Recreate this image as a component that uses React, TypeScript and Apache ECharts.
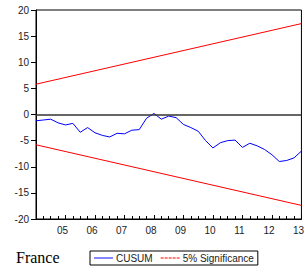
import React, { useEffect, useRef } from "react";
import * as echarts from "echarts";

// Quarterly observations, 2004Q1 .. 2013Q1
const startYear = 2004;
const periodsPerYear = 4;
const cusum = [
  -1.2, -1.05, -0.9, -1.6, -2.0, -1.7, -3.4, -2.5, -3.5, -4.0,
  -4.3, -3.6, -3.7, -3.0, -2.9, -0.7, 0.2, -0.9, -0.3, -0.6,
  -1.9, -2.5, -3.2, -5.0, -6.4, -5.4, -5.0, -4.9, -6.3, -5.5,
  -6.0, -6.7, -7.7, -9.0, -8.8, -8.3, -7.0,
];
// 5% significance bounds at first and last observation
const upperBound = [5.8, 17.4];
const lowerBound = [-5.8, -17.4];
const yTicks = [-20, -15, -10, -5, 0, 5, 10, 15, 20];
const xLabelYears = [2005, 2006, 2007, 2008, 2009, 2010, 2011, 2012, 2013];
const seriesNames = ["CUSUM", "5% Significance"];
const countryLabel = "France";

export default function App() {
  const ref = useRef<HTMLDivElement>(null);
  useEffect(() => {
    if (!ref.current) return;
    const chart = echarts.init(ref.current, undefined, { renderer: "svg" });
    const t = (i: number) => startYear + i / periodsPerYear;
    const lastT = t(cusum.length - 1);
    const font = "Liberation Sans, Arial, sans-serif";
    const solidIcon = "path://M0,0H20V1H0Z";
    const dashedIcon =
      "path://M0,0H3V1H0Z M4,0H7V1H4Z M8,0H11V1H8Z M12,0H15V1H12Z M16,0H19V1H16Z";
    chart.setOption({
      animation: false,
      grid: {
        left: 36,
        right: 1.5,
        top: 10,
        bottom: 53,
        show: true,
        borderColor: "#000",
        borderWidth: 1,
      },
      xAxis: {
        type: "value",
        min: startYear,
        max: lastT,
        interval: 1,
        splitLine: { show: false },
        axisLine: { show: true, onZero: false, lineStyle: { color: "#000" } },
        axisTick: { show: true, inside: true, length: 4, lineStyle: { color: "#000" } },
        minorTick: { show: true, splitNumber: 4, length: 3, lineStyle: { color: "#000" } },
        axisLabel: {
          color: "#222",
          fontFamily: font,
          fontSize: 10,
          margin: 6,
          padding: [0, 6, 0, 0],
          formatter: (v: number) =>
            xLabelYears.includes(Math.round(v)) ? String(Math.round(v)).slice(2) : "",
        },
      },
      yAxis: {
        type: "value",
        min: yTicks[0],
        max: yTicks[yTicks.length - 1],
        interval: 5,
        splitLine: { show: false },
        axisLine: { show: true, lineStyle: { color: "#000" } },
        axisTick: { show: true, length: 5, lineStyle: { color: "#000" } },
        axisLabel: { color: "#222", fontFamily: font, fontSize: 10, margin: 7 },
      },
      legend: {
        left: 90,
        top: 251,
        data: [
          { name: seriesNames[0], icon: solidIcon, itemStyle: { color: "#0000ff" } },
          { name: seriesNames[1], icon: dashedIcon, itemStyle: { color: "#ff0000" } },
        ],
        orient: "horizontal",
        borderColor: "#000",
        borderWidth: 1,
        padding: [2, 4, 2, 4],
        itemWidth: 19,
        itemHeight: 1,
        itemGap: 8,
        textStyle: { fontFamily: font, fontSize: 10, color: "#222", padding: [0, 0, 0, -2] },
      },
      graphic: [
        {
          type: "text",
          left: 16,
          top: 249,
          style: {
            text: countryLabel,
            font: "16px 'Liberation Serif', 'Times New Roman', serif",
            fill: "#000",
          },
        },
      ],
      series: [
        {
          name: seriesNames[0],
          type: "line",
          data: cusum.map((v, i) => [t(i), v]),
          symbol: "none",
          lineStyle: { color: "#0000ff", width: 1 },
          itemStyle: { color: "#0000ff" },
          markLine: {
            silent: true,
            symbol: "none",
            label: { show: false },
            lineStyle: { color: "#333", width: 1.5, type: "solid" },
            data: [{ yAxis: 0 }],
          },
          z: 3,
        },
        {
          name: seriesNames[1],
          type: "line",
          data: [
            [t(0), upperBound[0]],
            [lastT, upperBound[1]],
          ],
          symbol: "none",
          lineStyle: { color: "#ff0000", width: 1 },
          itemStyle: { color: "#ff0000" },
        },
        {
          name: seriesNames[1],
          type: "line",
          data: [
            [t(0), lowerBound[0]],
            [lastT, lowerBound[1]],
          ],
          symbol: "none",
          lineStyle: { color: "#ff0000", width: 1 },
          itemStyle: { color: "#ff0000" },
        },
      ],
    });
    return () => chart.dispose();
  }, []);
  return (
    <div
      ref={ref}
      style={{ position: "fixed", left: 0, top: 0, width: 307, height: 272, background: "#fff" }}
    />
  );
}
